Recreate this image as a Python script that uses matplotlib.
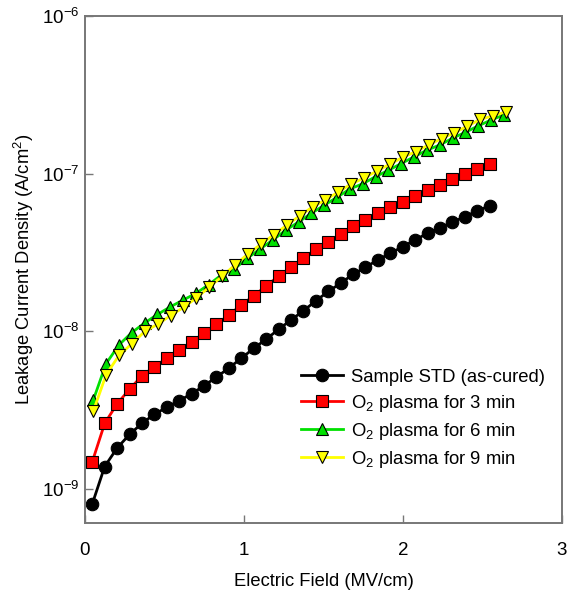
import matplotlib.pyplot as plt
import numpy as np
from matplotlib.ticker import FixedLocator, NullLocator, LogFormatterMathtext

plt.rcParams["font.family"] = ["Liberation Sans", "DejaVu Sans"]
plt.rcParams["mathtext.fontset"] = "custom"
plt.rcParams["mathtext.rm"] = "Liberation Sans"
plt.rcParams["mathtext.it"] = "Liberation Sans:italic"
plt.rcParams["mathtext.bf"] = "Liberation Sans:bold"

# electric field (MV/cm) and leakage current density (A/cm^2)
field_std = np.linspace(0.046, 2.545, 33)
j_std = [8.05e-10, 1.39e-9, 1.82e-9, 2.22e-9, 2.61e-9, 2.98e-9, 3.30e-9, 3.64e-9,
         4.01e-9, 4.53e-9, 5.12e-9, 5.86e-9, 6.74e-9, 7.81e-9, 8.91e-9, 1.03e-8,
         1.18e-8, 1.35e-8, 1.56e-8, 1.79e-8, 2.02e-8, 2.30e-8, 2.55e-8, 2.84e-8,
         3.13e-8, 3.44e-8, 3.80e-8, 4.19e-8, 4.55e-8, 4.92e-8, 5.34e-8, 5.80e-8,
         6.26e-8]

field_3 = np.linspace(0.046, 2.545, 33)
j_3 = [1.49e-9, 2.61e-9, 3.47e-9, 4.30e-9, 5.22e-9, 5.98e-9, 6.75e-9, 7.62e-9,
       8.60e-9, 9.72e-9, 1.11e-8, 1.27e-8, 1.47e-8, 1.68e-8, 1.94e-8, 2.24e-8,
       2.55e-8, 2.91e-8, 3.32e-8, 3.71e-8, 4.15e-8, 4.66e-8, 5.08e-8, 5.61e-8,
       6.12e-8, 6.64e-8, 7.22e-8, 7.88e-8, 8.48e-8, 9.21e-8, 9.95e-8, 1.07e-7,
       1.15e-7]

field_6 = np.linspace(0.052, 2.635, 33)
j_6 = [3.66e-9, 6.24e-9, 8.20e-9, 9.82e-9, 1.13e-8, 1.28e-8, 1.43e-8, 1.58e-8,
       1.74e-8, 1.98e-8, 2.28e-8, 2.49e-8, 2.91e-8, 3.33e-8, 3.80e-8, 4.38e-8,
       4.94e-8, 5.61e-8, 6.31e-8, 7.09e-8, 8.00e-8, 8.63e-8, 9.58e-8, 1.05e-7,
       1.16e-7, 1.28e-7, 1.41e-7, 1.52e-7, 1.68e-7, 1.83e-7, 2.01e-7, 2.19e-7,
       2.36e-7]

field_9 = np.linspace(0.052, 2.648, 33)
j_9 = [3.11e-9, 5.31e-9, 7.05e-9, 8.36e-9, 1.00e-8, 1.11e-8, 1.26e-8, 1.42e-8,
       1.63e-8, 1.91e-8, 2.24e-8, 2.64e-8, 3.10e-8, 3.57e-8, 4.10e-8, 4.71e-8,
       5.40e-8, 6.15e-8, 6.81e-8, 7.65e-8, 8.61e-8, 9.39e-8, 1.04e-7, 1.15e-7,
       1.27e-7, 1.38e-7, 1.52e-7, 1.67e-7, 1.82e-7, 2.00e-7, 2.21e-7, 2.33e-7,
       2.47e-7]

labels = ["Sample STD (as-cured)", "O$_2$ plasma for 3 min",
          "O$_2$ plasma for 6 min", "O$_2$ plasma for 9 min"]
x_ticks = [0, 1, 2, 3]
y_ticks = [1e-9, 1e-8, 1e-7, 1e-6]

fig = plt.figure(figsize=(5.68, 5.94), dpi=100)
ax = fig.add_axes([0.1496, 0.1195, 0.8398, 0.8536])

series = [
    (field_std, j_std, "black", "o", "black", 9.0),
    (field_3, j_3, "#ff0000", "s", "#ff0000", 8.0),
    (field_6, j_6, "#00e000", "^", "#00e000", 9.0),
    (field_9, j_9, "#ffff00", "v", "#ffff00", 9.0),
]
for (x, y, lc, mk, fc, ms), lab in zip(series, labels):
    ax.plot(x, y, color=lc, lw=2.0, marker=mk, markersize=ms,
            markerfacecolor=fc, markeredgecolor="black", markeredgewidth=0.8,
            label=lab)

ax.set_yscale("log")
ax.set_xlim(0, 3)
ax.set_ylim(6.09e-10, 1e-6)
ax.xaxis.set_major_locator(FixedLocator(x_ticks))
ax.yaxis.set_major_locator(FixedLocator(y_ticks))
ax.yaxis.set_major_formatter(LogFormatterMathtext())
ax.xaxis.set_minor_locator(NullLocator())
ax.yaxis.set_minor_locator(NullLocator())

for sp in ax.spines.values():
    sp.set_color("#777777")
    sp.set_linewidth(1.4)
ax.tick_params(axis="both", direction="in", length=6, width=1.0,
               color="#777777", labelsize=13.5)
ax.tick_params(axis="x", pad=14)
ax.tick_params(axis="y", pad=4)

ax.set_xlabel("Electric Field (MV/cm)", fontsize=13.2, labelpad=10)
ax.set_ylabel("Leakage Current Density (A/cm$^2$)", fontsize=13.2, labelpad=4)

ax.legend(loc="lower right", bbox_to_anchor=(1.0, 0.072), frameon=False,
          fontsize=13.3, handlelength=2.3, handletextpad=0.45,
          labelspacing=0.38)

fig.savefig("out.png", dpi=100)
